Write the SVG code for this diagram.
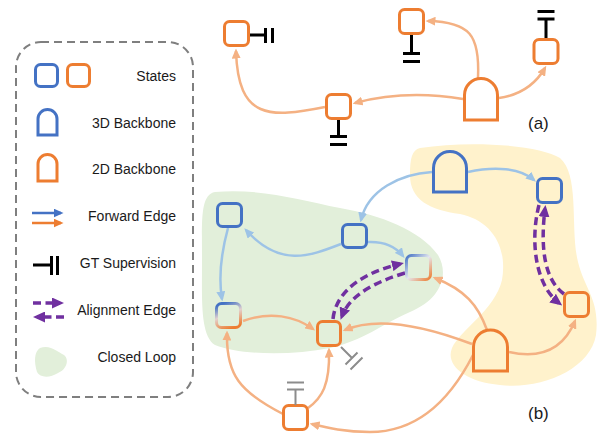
<svg xmlns="http://www.w3.org/2000/svg" width="597" height="435" viewBox="0 0 597 435">
<style>
text{font-family:"Liberation Sans",Arial,sans-serif;fill:#1a1a1a}
.lbl{font-size:14px;text-anchor:end}
.cap{font-size:17px}
.so{fill:none;stroke:#ed7d31;stroke-width:3}
.sb{fill:none;stroke:#4472c4;stroke-width:3}
.eo{fill:none;stroke:#f4b183;stroke-width:2.5}
.eb{fill:none;stroke:#9dc3e6;stroke-width:2.5}
.ep{fill:none;stroke:#7030a0;stroke-width:3.5;stroke-dasharray:8 4.5}
.gt{fill:none;stroke:#000;stroke-width:3}
.gtg{fill:none;stroke:#8c8c8c;stroke-width:2}
</style>
<defs>
<marker id="ao" viewBox="0 0 10 9" markerWidth="10" markerHeight="9" refX="7.5" refY="4.5" orient="auto" markerUnits="userSpaceOnUse"><path d="M0,0 L10,4.5 L0,9 z" fill="#f4b183"/></marker>
<marker id="ab" viewBox="0 0 10 9" markerWidth="10" markerHeight="9" refX="7.5" refY="4.5" orient="auto" markerUnits="userSpaceOnUse"><path d="M0,0 L10,4.5 L0,9 z" fill="#9dc3e6"/></marker>
<marker id="aO" viewBox="0 0 10 9" markerWidth="10" markerHeight="9" refX="7.5" refY="4.5" orient="auto" markerUnits="userSpaceOnUse"><path d="M0,0 L10,4.5 L0,9 z" fill="#ed7d31"/></marker>
<marker id="aB" viewBox="0 0 10 9" markerWidth="10" markerHeight="9" refX="7.5" refY="4.5" orient="auto" markerUnits="userSpaceOnUse"><path d="M0,0 L10,4.5 L0,9 z" fill="#4472c4"/></marker>
<marker id="ap" viewBox="0 0 12 11" markerWidth="12" markerHeight="11" refX="8" refY="5.5" orient="auto" markerUnits="userSpaceOnUse"><path d="M0,0 L12,5.5 L0,11 z" fill="#7030a0"/></marker>
<linearGradient id="gC" x1="0.3" y1="0" x2="0.7" y2="1"><stop offset="0" stop-color="#4472c4"/><stop offset="0.45" stop-color="#e3d2d0"/><stop offset="1" stop-color="#ed7d31"/></linearGradient>
<linearGradient id="gD" x1="0" y1="0" x2="1" y2="1"><stop offset="0" stop-color="#4472c4"/><stop offset="0.5" stop-color="#e4e6ef"/><stop offset="1" stop-color="#ed7d31"/></linearGradient>
</defs>

<!-- regions -->
<g id="loops">
<path id="yellow-loop" d="M 420 148 C 470 140 540 145 560 158 C 580 175 570 230 578 262 C 585 290 600 300 596 335 C 590 370 540 390 500 385 C 465 382 445 365 452 348 C 460 330 495 310 502 280 C 508 245 490 220 460 214 C 430 210 410 200 410 175 C 410 158 412 150 420 148 Z" fill="#fff2cc"/>
<path id="green-loop" d="M 215 192 C 260 188 300 200 340 208 C 380 215 420 230 438 255 C 450 275 440 300 410 312 C 380 325 365 340 330 348 C 290 356 240 355 215 345 C 200 335 202 300 202 260 C 202 220 200 195 215 192 Z" fill="#e2efda"/>
</g>

<!-- legend -->
<g id="legend">
<rect x="16" y="42" width="177" height="355" rx="25" fill="none" stroke="#7f7f7f" stroke-width="2" stroke-dasharray="8 5"/>
<rect class="sb" x="35.5" y="64.5" width="22" height="22" rx="5"/>
<rect class="so" x="67.5" y="64.5" width="22" height="22" rx="5"/>
<text class="lbl" x="176" y="81">States</text>
<path class="sb" stroke-width="2.5" d="M38,135 L38,119 A9.5,9.5 0 0 1 57,119 L57,135 Z"/>
<text class="lbl" x="176" y="127.5">3D Backbone</text>
<path class="so" stroke-width="2.5" d="M38,181 L38,164 A9.5,9.5 0 0 1 57,164 L57,181 Z"/>
<text class="lbl" x="176" y="174">2D Backbone</text>
<path d="M32,213 L61,213" fill="none" stroke="#4472c4" stroke-width="2.5" marker-end="url(#aB)"/>
<path d="M32,223 L61,223" fill="none" stroke="#ed7d31" stroke-width="2.5" marker-end="url(#aO)"/>
<text class="lbl" x="176" y="220.5">Forward Edge</text>
<path class="gt" d="M33,265 L50,265 M51.5,256 L51.5,275 M57.5,256 L57.5,275"/>
<text class="lbl" x="176" y="268">GT Supervision</text>
<path class="ep" d="M33,303 L60,303" marker-end="url(#ap)"/>
<path class="ep" d="M64,317 L37,317" marker-end="url(#ap)"/>
<text class="lbl" x="176" y="315">Alignment Edge</text>
<path d="M40,348 C50,344 58,352 64,355 C70,360 66,370 58,373 C50,378 40,378 37,372 C34,362 34,352 40,348 Z" fill="#e2efda"/>
<text class="lbl" x="176" y="362">Closed Loop</text>
</g>

<!-- connectors -->
<g id="connectors">
<!-- (a) -->
<path class="eo" d="M 478 78 C 480 35 470 22 428 21" marker-end="url(#ao)"/>
<path class="eo" d="M 499 98 C 520 95 535 85 545 68" marker-end="url(#ao)"/>
<path class="eo" d="M 463 99 C 420 92 385 95 355 103" marker-end="url(#ao)"/>
<path class="eo" d="M 325 107 C 270 118 238 120 236 51" marker-end="url(#ao)"/>
<!-- (b) blue -->
<path class="eb" d="M 468 172 C 495 166 520 168 534 180" marker-end="url(#ab)"/>
<path class="eb" d="M 432 172 C 400 174 368 190 361 220" marker-end="url(#ab)"/>
<path class="eb" d="M 341 244 C 310 256 280 268 246 230" marker-end="url(#ab)"/>
<path class="eb" d="M 367 242 C 385 241 396 247 403 256" marker-end="url(#ab)"/>
<path class="eb" d="M 228 228 C 222 250 218 275 222 299" marker-end="url(#ab)"/>
<!-- (b) orange -->
<path class="eo" d="M 243 321 C 270 311 295 316 313 329" marker-end="url(#ao)"/>
<path class="eo" d="M 283 414 C 240 392 226 375 227 333" marker-end="url(#ao)"/>
<path class="eo" d="M 308 408 C 322 398 330 385 329 350" marker-end="url(#ao)"/>
<path class="eo" d="M 472 344 C 430 328 380 315 345 330" marker-end="url(#ao)"/>
<path class="eo" d="M 487 330 C 478 305 465 290 435 278" marker-end="url(#ao)"/>
<path class="eo" d="M 509 352 C 545 360 565 345 575 321" marker-end="url(#ao)"/>
<path class="eo" d="M 473 355 C 445 410 410 432 370 432 C 345 432 328 428 312 424" marker-end="url(#ao)"/>
<!-- (b) alignment -->
<path class="ep" d="M 333 319 C 336 290 365 272 400 264" marker-end="url(#ap)"/>
<path class="ep" d="M 405 273 C 375 282 350 295 342 316" marker-end="url(#ap)"/>
<path class="ep" d="M 539 205 C 530 240 535 285 559 303" marker-end="url(#ap)"/>
<path class="ep" d="M 564 294 C 545 280 540 250 545 209" marker-end="url(#ap)"/>
</g>

<!-- (a) nodes -->
<g id="a-state-1"><rect class="so" x="224.5" y="21.5" width="24" height="24" rx="5" fill="#fff"/><path class="gt" d="M250,35 L264,35 M265.5,28 L265.5,43 M272.5,28 L272.5,43"/></g>
<g id="a-state-2"><rect class="so" x="326.5" y="94.5" width="24" height="24" rx="5" fill="#fff"/><path class="gt" d="M338.5,120 L338.5,135 M330,136.5 L347,136.5 M330,144.5 L347,144.5"/></g>
<g id="a-state-3"><rect class="so" x="399.5" y="9.5" width="24" height="24" rx="5" fill="#fff"/><path class="gt" d="M411.5,35 L411.5,52 M403,53.5 L420,53.5 M403,61.5 L420,61.5"/></g>
<g id="a-state-4"><rect class="so" x="534" y="39.5" width="24" height="24" rx="5" fill="#fff"/><path class="gt" d="M546,38 L546,20 M537.5,19 L554.5,19 M537.5,11.5 L554.5,11.5"/></g>
<g id="a-backbone-2d"><path class="so" fill="#fff" d="M464.5,120 L464.5,95 A16.5,16.5 0 0 1 497.5,95 L497.5,120 Z"/></g>
<text class="cap" x="528" y="129">(a)</text>

<!-- (b) nodes -->
<g id="b-state-A"><rect class="sb" x="217.5" y="203.5" width="24" height="23" rx="5"/></g>
<g id="b-state-B"><rect class="sb" x="342.5" y="224.5" width="24" height="23" rx="5"/></g>
<g id="b-state-C"><rect x="216.5" y="303.5" width="24" height="24" rx="5" fill="none" stroke="url(#gC)" stroke-width="3"/></g>
<g id="b-state-D"><rect x="406.5" y="255.5" width="24" height="24" rx="5" fill="none" stroke="url(#gD)" stroke-width="3"/></g>
<g id="b-state-E"><rect class="so" x="317.5" y="321.5" width="23" height="24" rx="5"/><path class="gtg" d="M341,347 L352,358 M345.5,364.5 L357.5,352.5 M350.5,369.5 L362.5,357.5"/></g>
<g id="b-state-F"><rect class="so" x="283.5" y="405.5" width="24" height="24" rx="5" fill="#fff"/><path class="gtg" d="M295.5,405 L295.5,390 M287,389.5 L304,389.5 M287,382.5 L304,382.5"/></g>
<g id="b-state-G"><rect class="sb" x="537.5" y="178.5" width="24" height="24" rx="5"/></g>
<g id="b-state-H"><rect class="so" x="564.5" y="292.5" width="24" height="24" rx="5"/></g>
<g id="b-backbone-3d"><path class="sb" d="M433.5,192 L433.5,168 A16.5,16.5 0 0 1 466.5,168 L466.5,192 Z"/></g>
<g id="b-backbone-2d"><path class="so" d="M473.5,371 L473.5,347 A17,17 0 0 1 507.5,347 L507.5,371 Z"/></g>
<text class="cap" x="528" y="419">(b)</text>
</svg>
